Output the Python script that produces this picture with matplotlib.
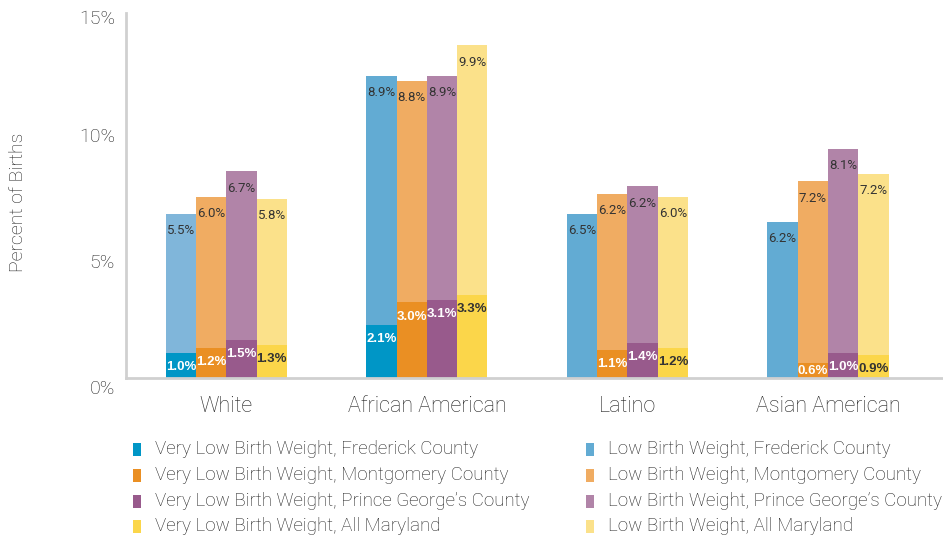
import matplotlib.pyplot as plt
import numpy as np
from matplotlib.patches import Rectangle
from matplotlib.transforms import ScaledTranslation

plt.rcParams['font.family'] = ['Roboto', 'DejaVu Sans']

groups = ['White', 'African American', 'Latino', 'Asian American']
counties = ['Frederick County', 'Montgomery County', "Prince George\u2019s County", 'All Maryland']

# very low birth weight (bottom segment), 0 = not shown
vlbw = [
    [1.0, 2.1, 0.0, 0.0],
    [1.2, 3.0, 1.1, 0.6],
    [1.5, 3.1, 1.4, 1.0],
    [1.3, 3.3, 1.2, 0.9],
]
# low birth weight segment as drawn
lbw = [
    [5.5, 9.9, 6.5, 6.2],
    [6.0, 8.8, 6.2, 7.2],
    [6.7, 8.9, 6.2, 8.1],
    [5.8, 9.9, 6.0, 7.2],
]
lbw_labels = [
    ['5.5%', '8.9%', '6.5%', '6.2%'],
    ['6.0%', '8.8%', '6.2%', '7.2%'],
    ['6.7%', '8.9%', '6.2%', '8.1%'],
    ['5.8%', '9.9%', '6.0%', '7.2%'],
]
yticks = [0, 5, 10, 15]

vlbw_colors = ['#0096c6', '#ea8f23', '#985a8c', '#fbd64a']
lbw_colors = ['#62abd3', '#f0ac62', '#b184a8', '#fbe18a']
vlbw_text = ['white', 'white', 'white', '#333333']
txt = '#222222'

fig = plt.figure(figsize=(9.43, 5.40), dpi=100)
ax = fig.add_axes([126 / 943, 0.3, 1 - 126 / 943, 0.7])

x = np.arange(len(groups))
w = 0.151
for i in range(4):
    xs = x + (i - 1.5) * w
    bottom = np.array(vlbw[i])
    cols = [lbw_colors[i]] * 4
    if i == 0:
        cols[0] = '#80b6da'  # white group bar is lighter in the original
    ax.bar(xs, bottom, w, color=vlbw_colors[i], linewidth=0)
    ax.bar(xs, lbw[i], w, bottom=bottom, color=cols, linewidth=0)
    for j in range(4):
        top = bottom[j] + lbw[i][j]
        ax.annotate(lbw_labels[i][j], (xs[j], top), xytext=(0, -12), textcoords='offset points',
                    ha='center', va='center', fontsize=9.5, color='#333333')
        if vlbw[i][j] > 0:
            ly = max(vlbw[i][j] - 0.56, 0.27)
            ax.text(xs[j], ly, f'{vlbw[i][j]:.1f}%', ha='center', va='center', fontsize=9.5,
                    fontweight='bold', color=vlbw_text[i], family=['Liberation Sans', 'DejaVu Sans'])

ax.set_xlim(-0.5, 3.573)
ax.set_ylim(0, 15)
ax.set_xticks(x)
ax.set_xticklabels(groups, fontsize=15.5, color=txt, fontweight='light')
ax.set_yticks(yticks)
ax.set_yticklabels([f'{t}%' for t in yticks], fontsize=14, color=txt, fontweight='light')
ax.tick_params(axis='both', length=0)
ax.tick_params(axis='x', pad=13)
ax.tick_params(axis='y', pad=8)
for k, lab in enumerate(ax.get_yticklabels()):
    dy = 17 if k == len(yticks) - 1 else 9
    lab.set_transform(lab.get_transform() + ScaledTranslation(0, -dy / 100, fig.dpi_scale_trans))

for s in ['top', 'right']:
    ax.spines[s].set_visible(False)
ax.spines['left'].set_color('#d0d0d0')
ax.spines['bottom'].set_color('#d0d0d0')
ax.spines['left'].set_linewidth(2)
ax.spines['bottom'].set_linewidth(2)
ax.spines['left'].set_bounds(0, 14.5)

fig.text(18 / 943, 1 - 202 / 540, 'Percent of Births', rotation=90, ha='center', va='center',
         fontsize=14, color=txt, fontweight='light')

# legend
rows = [449, 475, 501, 526]
for k in range(4):
    yc = 1 - rows[k] / 540
    for mx, tx, col, name in [(133, 155, vlbw_colors[k], 'Very Low Birth Weight, '),
                              (586, 608, lbw_colors[k], 'Low Birth Weight, ')]:
        fig.add_artist(Rectangle((mx / 943, yc - 7 / 540), 8 / 943, 13 / 540,
                                 transform=fig.transFigure, color=col, linewidth=0))
        fig.text(tx / 943, yc, name + counties[k], ha='left', va='center', fontsize=13.5,
                 color=txt, fontweight='light')

fig.savefig('out.png', dpi=100)
